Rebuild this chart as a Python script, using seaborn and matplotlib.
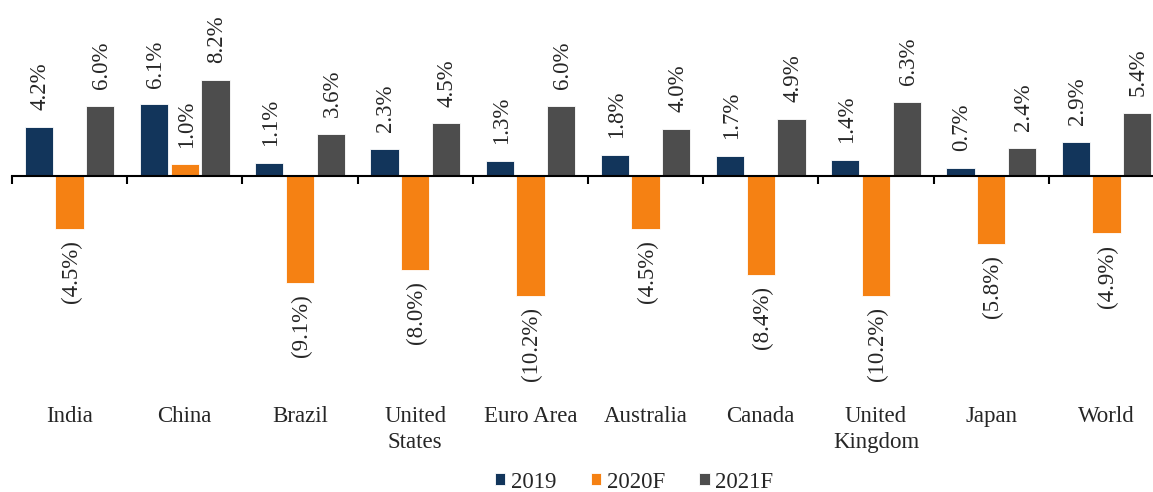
import matplotlib
matplotlib.use("Agg")
import matplotlib.pyplot as plt
import seaborn as sns
import numpy as np
import pandas as pd

# === Data ===
countries = ["India", "China", "Brazil", "United\nStates", "Euro Area",
             "Australia", "Canada", "United\nKingdom", "Japan", "World"]
series = ["2019", "2020F", "2021F"]
gdp_2019 = [4.2, 6.1, 1.1, 2.3, 1.3, 1.8, 1.7, 1.4, 0.7, 2.9]
gdp_2020f = [-4.5, 1.0, -9.1, -8.0, -10.2, -4.5, -8.4, -10.2, -5.8, -4.9]
gdp_2021f = [6.0, 8.2, 3.6, 4.5, 6.0, 4.0, 4.9, 6.3, 2.4, 5.4]
colors = ["#12355b", "#f58113", "#4d4d4d"]

df = pd.DataFrame({
    "country": countries * 3,
    "series": np.repeat(series, len(countries)),
    "value": gdp_2019 + gdp_2020f + gdp_2021f,
})

# === Plot ===
sns.set_style("white")
plt.rcParams["font.family"] = ["Liberation Serif", "DejaVu Serif"]
FS = 16.5

fig = plt.figure(figsize=(11.53, 4.92), dpi=100)
ax = fig.add_axes([0, 92 / 492, 1, 400 / 492])

sns.barplot(data=df, x="country", y="value", hue="series", palette=colors,
            order=countries, hue_order=series, width=0.8, gap=0.08,
            saturation=1, edgecolor="white", linewidth=0.6, ax=ax)

# value labels
for cont in ax.containers:
    for bar in cont:
        v = bar.get_height()
        xc = bar.get_x() + bar.get_width() / 2
        if v >= 0:
            ax.annotate(f"{v:.1f}%", (xc, v), xytext=(1, 12), textcoords="offset points",
                        rotation=90, ha="center", va="bottom", fontsize=FS)
        else:
            ax.annotate(f"({abs(v):.1f}%)", (xc, v), xytext=(1, -8), textcoords="offset points",
                        rotation=90, ha="center", va="top", fontsize=FS)

# zero axis line with group separators
for s in ["top", "right", "left"]:
    ax.spines[s].set_visible(False)
ax.spines["bottom"].set_position(("data", 0))
ax.spines["bottom"].set_color("black")
ax.spines["bottom"].set_linewidth(1.5)
ax.set_xticks(np.arange(len(countries) + 1) - 0.5)
ax.set_xticklabels([])
ax.tick_params(axis="x", direction="out", length=6, width=1.5, color="black", bottom=True)
ax.set_yticks([])
ax.set_xlabel("")
ax.set_ylabel("")

scale = 11.73  # px per percent
step = 115.2   # px per group
ax.set_ylim(-(400 - 176) / scale, 176 / scale)
xmin = -0.5 - 12 / step
ax.set_xlim(xmin, xmin + 1153 / step)
ax.spines["bottom"].set_bounds(-0.5, len(countries) - 0.5)

secax = ax.secondary_xaxis("bottom")
secax.set_xticks(range(len(countries)), labels=countries)
secax.tick_params(length=0, pad=4, labelsize=FS)
secax.spines["bottom"].set_visible(False)
for t in secax.get_xticklabels():
    t.set_linespacing(1.35)
    t.set_family(["Liberation Serif", "DejaVu Serif"])

handles, labels = ax.get_legend_handles_labels()
ax.get_legend().remove()
fig.legend(handles, labels, loc="center", bbox_to_anchor=(0.55, 10 / 492), ncol=3,
           frameon=False, prop={"family": "Liberation Serif", "size": FS},
           handlelength=0.45, handleheight=0.45,
           handletextpad=0.25, columnspacing=1.5, borderaxespad=0, borderpad=0)

fig.savefig("out.png", dpi=100)
